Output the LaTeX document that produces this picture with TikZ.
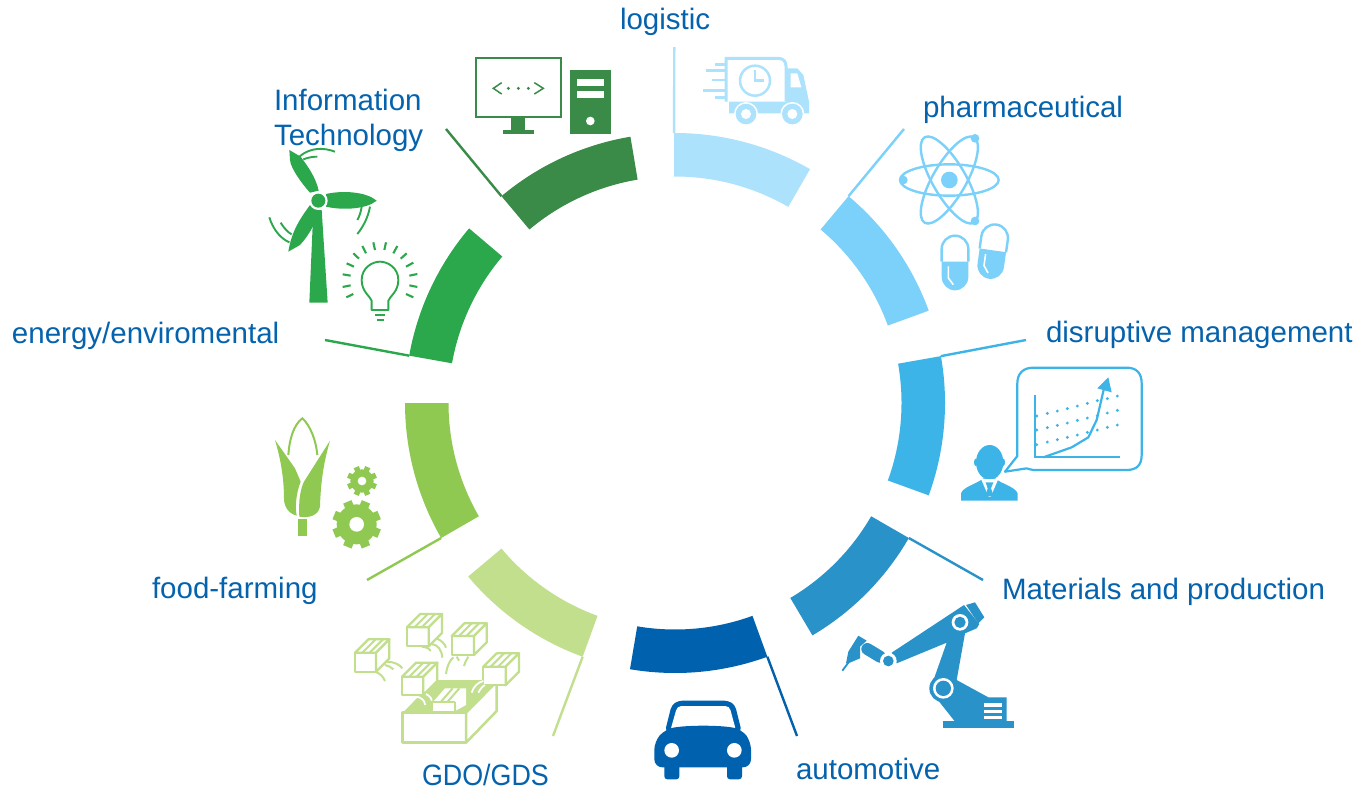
\documentclass[tikz,border=0pt]{standalone}
\usepackage{fontspec}
\setmainfont{Liberation Sans}
\usetikzlibrary{calc}
\definecolor{cLog}{HTML}{ADE2FD}
\definecolor{cPha}{HTML}{7BD1F9}
\definecolor{cDis}{HTML}{3DB4E8}
\definecolor{cMat}{HTML}{2993C9}
\definecolor{cAut}{HTML}{0062AE}
\definecolor{cGdo}{HTML}{C2DF8E}
\definecolor{cFoo}{HTML}{8FC952}
\definecolor{cEne}{HTML}{2CA84C}
\definecolor{cInf}{HTML}{3A8A48}
\definecolor{cTxt}{HTML}{0563AE}
\tikzset{
  zoomed/.style 2 args={x=0.33333pt,y=-0.33333pt,xshift=#1pt,yshift=-#2pt},
  lbl/.style={anchor=base west,inner sep=0pt,outer sep=0pt,text=cTxt,font=\fontsize{29.5}{35}\selectfont},
  leader/.style={line width=2.4pt},
}
\newcommand{\ringseg}[6]{%
  \fill[#4] ($(ctr)+(-#2:270)$) arc[start angle=-#2,end angle=-#3,radius=270]
     -- ($(ctr)+(-#3:226.5)$) arc[start angle=-#3,end angle=-#2,radius=226.5] -- cycle;
  \coordinate (#1-seg) at ($(ctr)+(-#5:270)$);
  \coordinate (#1-end) at #6;
  \draw[#4,leader] (#1-seg) -- (#1-end);
}
\newcommand{\cardbox}[5]{% x y w h depth: front top-left, width, height, depth
  \begin{scope}[shift={(#1,#2)}]
  \draw[cGdo,line width=2.3pt,line join=round,fill=white] (0,0) rectangle (#3,#4);
  \draw[cGdo,line width=2.3pt,line join=round,fill=white] (0,0) -- (#5,-#5) -- ({#3+#5},-#5) -- (#3,0) -- cycle;
  \draw[cGdo,line width=2.3pt,line join=round,fill=white] (#3,0) -- ({#3+#5},-#5) -- ({#3+#5},{#4-#5}) -- (#3,#4) -- cycle;
  \draw[cGdo,line width=2pt] (22,0) -- ({22+#5},-#5);
  \draw[cGdo,line width=2pt] (44,0) -- ({44+#5},-#5);
  \end{scope}
}
\newcommand{\capsule}{%
  \fill[cPha] (-40,-4) -- (-40,42) arc[start angle=180,end angle=0,radius=40] -- (40,-4) -- cycle;
  \draw[cPha,line width=2.4pt] (-40,-4) -- (-40,-42) arc[start angle=180,end angle=360,radius=40] -- (40,-4);
  \draw[white,line width=1.6pt] (-20,10) -- (-20,45) -- (-5,65);
}
\newcommand{\gearicon}[6]{% cx cy body tip hole tooth-width
  \begin{scope}[shift={(#1,#2)}]
  \fill[cFoo] (0,0) circle[radius=#3];
  \foreach \a in {0,45,...,315} {\draw[cFoo,line width=#6pt] (\a+22.5:#3-4) -- (\a+22.5:#4);}
  \fill[white] (0,0) circle[radius=#5];
  \end{scope}
}
\begin{document}
\begin{tikzpicture}[x=1pt,y=-1pt]
\useasboundingbox (0,0) rectangle (1370,788);
\fill[white] (0,0) rectangle (1370,788);
\coordinate (ctr) at (675,403);

% ring segments and leaders
\ringseg{log}{90.2}{60}{cLog}{90.2}{(674.3,47)}
\ringseg{pha}{50}{20}{cPha}{50}{(904,129)}
\ringseg{dis}{10}{-20}{cDis}{10}{(1026,340)}
\ringseg{mat}{-30}{-59.4}{cMat}{-30}{(983,580)}
\ringseg{aut}{-70}{-99.6}{cAut}{-70}{(797,736)}
\ringseg{gdo}{-110}{-140}{cGdo}{-110}{(553,736)}
\ringseg{foo}{-150}{-180}{cFoo}{-150}{(367,580)}
\ringseg{ene}{169.9}{139.7}{cEne}{169.9}{(325,340)}
\ringseg{inf}{130}{99.5}{cInf}{130}{(446,129)}

% labels
\node[lbl] (t-log) at (620,29) {logistic};
\node[lbl] (t-pha) at (923,117) {pharmaceutical};
\node[lbl] (t-dis) at (1046,342) {disruptive management};
\node[lbl] (t-mat) at (1002,599) {Materials and production};
\node[lbl] (t-aut) at (796,779) {automotive};
\node[lbl] (t-gdo) at (422,785) {\scalebox{0.91}[1]{GDO/GDS}};
\node[lbl] (t-foo) at (152,598) {food-farming};
\node[lbl] (t-ene) at (12,343) {energy/enviromental};
\node[lbl] (t-inf1) at (274,110.5) {Information};
\node[lbl] (t-inf2) at (274,145.5) {Technology};

% computer and wind / bulb
\begin{scope}[zoomed={260}{40}]
  \draw[cInf,line width=2.2pt] (648,54) rectangle (904,231);
  \fill[cInf] (753,232) rectangle (795,270);
  \fill[cInf] (729,270) rectangle (821,282);
  \draw[cInf,line width=1.5pt] (725,128) -- (700,145) -- (725,162);
  \draw[cInf,line width=1.5pt] (823,128) -- (850,145) -- (823,162);
  \foreach \p in {745,775,805} \fill[cInf] (\p,145) circle[radius=5];
  \fill[cInf] (930,90) rectangle (1053,282);
  \fill[white] (950,117) rectangle (1033,137);
  \fill[white] (950,154) rectangle (1033,174);
  \fill[white] (991,243) circle[radius=13];
  % turbine
  \fill[cEne] (160,510) -- (185,510) -- (203,788) -- (148,788) -- cycle;
  \fill[cEne] (198,462) .. controls (250,450) and (320,456) .. (350,482) .. controls (320,507) and (250,512) .. (198,500) -- cycle;
  \fill[cEne] (150,458) .. controls (125,430) and (92,385) .. (90,360) -- (88,330) -- (122,350) .. controls (148,385) and (168,415) .. (176,452) -- cycle;
  \fill[cEne] (150,495) .. controls (125,530) and (95,570) .. (85,635) -- (120,615) .. controls (148,585) and (168,545) .. (180,512) -- cycle;
  \fill[white] (175,482) circle[radius=28];
  \fill[cEne] (175,482) circle[radius=21];
  \draw[cEne,line width=1.9pt] (118,350) .. controls (150,322) and (190,322) .. (225,335);
  \draw[cEne,line width=1.9pt] (130,358) .. controls (145,352) and (160,350) .. (172,350);
  \draw[cEne,line width=1.9pt] (305,500) .. controls (303,515) and (298,530) .. (292,540);
  \draw[cEne,line width=1.9pt] (330,500) .. controls (325,530) and (310,560) .. (292,582);
  \draw[cEne,line width=1.9pt] (28,532) .. controls (38,565) and (60,595) .. (88,607);
  \draw[cEne,line width=1.9pt] (62,548) .. controls (72,565) and (85,578) .. (95,583);
  % bulb
  \draw[cEne,line width=1.9pt,line join=round] (335,810) -- (335,782) .. controls (330,768) and (305,755) .. (305,720)
     .. controls (305,685) and (335,665) .. (360,665) .. controls (385,665) and (415,685) .. (415,720)
     .. controls (415,755) and (390,768) .. (385,782) -- (385,810) -- cycle;
  \draw[cEne,line width=2.1pt] (345,825) -- (375,825);
  \draw[cEne,line width=2.1pt] (350,841) -- (372,841);
  \foreach \a/\b/\c/\d in {259/772/280/762,248/741/272/736,248/703/272/707,260/670/282/680,280/640/297/656,307/618/318/640,340/607/345/630,378/607/373/630,412/618/400/640,440/640/422/656,460/668/438/680,472/702/448/707,472/741/448/736,460/772/438/762}
    \draw[cEne,line width=2.1pt] (\a,\b) -- (\c,\d);
\end{scope}

% truck, atom, pills
\begin{scope}[zoomed={660}{40}]
  \draw[cLog,line width=3pt] (198,185) -- (198,55) -- (355,55) .. controls (370,55) and (378,65) .. (378,78) -- (378,185);
  \fill[cLog] (380,85) -- (412,85) -- (430,105) -- (447,185) -- (447,220) -- (207,220) -- (207,185) -- (380,185) -- cycle;
  \fill[white] (392,100) -- (412,100) -- (424,142) -- (392,142) -- cycle;
  \foreach \wx in {258,397} {
    \fill[white] (\wx,222) circle[radius=36];
    \fill[cLog] (\wx,222) circle[radius=31];
    \fill[white] (\wx,222) circle[radius=15];
  }
  \draw[cLog,line width=2.5pt] (285,122) circle[radius=45];
  \draw[cLog,line width=2.5pt] (285,90) -- (285,122) -- (312,122);
  \foreach \a/\b in {165/73,137/92,157/120,128/152,165/172}
    \draw[cLog,line width=2.8pt] (\a,\b) -- (195,\b);
  % atom
  \begin{scope}[shift={(868,420)}]
    \draw[cPha,line width=2.4pt] (0,0) ellipse[x radius=148,y radius=47];
    \draw[cPha,line width=2.4pt,rotate=60] (0,0) ellipse[x radius=148,y radius=50];
    \draw[cPha,line width=2.4pt,rotate=-60] (0,0) ellipse[x radius=148,y radius=50];
    \fill[cPha] (0,0) circle[radius=25];
  \end{scope}
  \fill[cPha] (730,420) circle[radius=13];
  \fill[cPha] (945,295) circle[radius=13];
  \fill[cPha] (945,543) circle[radius=13];
  % pills
  \begin{scope}[shift={(885,669)}] \capsule \end{scope}
  \begin{scope}[shift={(998,635)},rotate=-8] \capsule \end{scope}
\end{scope}

% manager
\begin{scope}[zoomed={880}{330}]
  \draw[cDis,line width=2.2pt,line join=round] (375,425) -- (412,378) -- (412,160) .. controls (412,130) and (430,113) .. (460,113)
     -- (740,113) .. controls (770,113) and (785,130) .. (785,160) -- (785,375) .. controls (785,405) and (770,420) .. (740,420)
     -- (460,420) .. controls (450,420) and (445,415) .. (440,415) -- cycle;
  \draw[cDis,line width=2.1pt] (465,195) -- (465,382) -- (720,382);
  \draw[cDis,line width=2.2pt,line join=round] (490,382) -- (575,352) -- (625,322) -- (650,270) -- (672,175);
  \fill[cDis] (685,142) -- (695,187) -- (652,175) -- cycle;
  \foreach \dx/\dy in {470/258,502/250,532/243,562/236,592/228,622/220,652/212,682/206,712/198,
                       470/300,502/293,532/286,562/279,592/271,622/264,652/257,682/249,712/241,
                       470/344,502/336,532/329,562/322,592/315,622/307,652/300,682/292,712/285}
    \fill[cDis] (\dx,\dy) circle[radius=4.8];
  \fill[cDis] (329,397) ellipse[x radius=41,y radius=52];
  \fill[cDis] (287,397) ellipse[x radius=5,y radius=11];
  \fill[cDis] (370,397) ellipse[x radius=5,y radius=11];
  \fill[cDis] (243,512) -- (243,490) .. controls (250,470) and (290,462) .. (310,445) -- (345,445) .. controls (365,462) and (405,470) .. (413,490) -- (413,512) -- cycle;
  \fill[white] (303,447) -- (355,447) -- (332,500) -- (326,500) -- cycle;
  \fill[cDis] (317,457) -- (340,457) -- (333,475) -- (341,498) -- (316,498) -- (323,475) -- cycle;
\end{scope}

% robot
\begin{scope}[zoomed={780}{500}]
  \fill[cMat] (490,662) rectangle (703,685);
  \fill[cMat] (450,570) -- (525,665) -- (680,665) -- (680,592) -- (625,592) -- (530,540) -- (555,400) -- (590,385) -- (598,372) -- (552,315) -- (335,458) -- (350,490) -- (500,428) -- cycle;
  \fill[cMat] (558,315) -- (585,307) -- (613,352) -- (595,370) -- cycle;
  \fill[cMat] (490,565) circle[radius=42];
  \fill[white] (490,565) circle[radius=31];
  \fill[cMat] (490,565) circle[radius=23];
  \fill[white] (540,367) circle[radius=25];
  \fill[cMat] (540,367) circle[radius=17];
  \fill[white] (612,610) rectangle (665,620);
  \fill[white] (612,630) rectangle (665,638);
  \fill[white] (612,648) rectangle (665,656);
  \draw[cMat,line width=12pt,line cap=round] (262,447) -- (300,470);
  \fill[white] (325,483) circle[radius=25];
  \fill[cMat] (325,483) circle[radius=16];
  \fill[cMat] (235,407) -- (260,422) -- (240,440) -- (240,475) -- (205,490) -- (198,490) -- (205,455) -- cycle;
  \draw[cMat,line width=1.8pt] (205,488) -- (187,512);
\end{scope}

% car
\begin{scope}[zoomed={620}{610}]
  \fill[cAut,rounded corners=4pt] (135,365) -- (155,285) -- (175,272) -- (325,272) -- (345,285) -- (365,365) -- cycle;
  \fill[white,rounded corners=2pt] (152,358) -- (170,295) -- (178,288) -- (322,288) -- (330,295) -- (347,358) -- cycle;
  \fill[cAut,rounded corners=8pt] (103,472) -- (103,395) -- (135,358) .. controls (200,345) and (300,345) .. (365,358) -- (393,395) -- (393,472) -- cycle;
  \fill[cAut,rounded corners=3pt] (133,460) rectangle (178,508);
  \fill[cAut,rounded corners=3pt] (321,460) rectangle (366,508);
  \fill[white] (155,421) circle[radius=22];
  \fill[white] (343,421) circle[radius=22];
\end{scope}

% boxes
\begin{scope}[zoomed={340}{550}]
  \fill[cGdo] (188,488) -- (285,390) -- (470,390) -- (378,488) -- cycle;
  \draw[cGdo,line width=2.5pt,line join=round] (378,488) -- (470,395) -- (470,483) -- (378,578) -- cycle;
  \draw[cGdo,line width=2.5pt,line join=round] (188,488) rectangle (378,578);
  \fill[white] (280,455) rectangle (345,483);
  \fill[white] (280,455) -- (315,415) -- (378,415) -- (345,455) -- cycle;
  \fill[white] (345,455) -- (378,415) -- (378,465) -- (345,483) -- cycle;
  \draw[cGdo,line width=2pt] (303,455) -- (338,415);
  \draw[cGdo,line width=2pt] (323,455) -- (358,415);
  \draw[cGdo,line width=2pt] (345,455) -- (345,483);
  \draw[cGdo,line width=2pt] (280,455) -- (345,455);
  \cardbox{45}{308}{63}{57}{40}
  \cardbox{201}{232}{65}{57}{40}
  \cardbox{335}{258}{67}{57}{38}
  \cardbox{186}{380}{64}{55}{42}
  \cardbox{430}{350}{67}{55}{40}
  \begin{scope}[cGdo,line width=2pt]
  \draw (138,335) .. controls (165,335) and (180,345) .. (187,355);
  \draw (135,345) .. controls (145,347) and (155,352) .. (160,358);
  \draw (105,365) .. controls (120,370) and (130,380) .. (135,393);
  \draw (245,290) .. controls (258,291) and (268,295) .. (272,303);
  \draw (275,282) .. controls (295,285) and (305,300) .. (307,323);
  \draw (290,265) .. controls (305,272) and (315,282) .. (318,293);
  \draw (318,372) .. controls (320,350) and (330,330) .. (340,322);
  \draw (350,320) -- (357,332);
  \draw (372,348) .. controls (374,338) and (380,328) .. (385,320);
  \end{scope}
  \begin{scope}[white,line width=1.8pt]
  \draw (230,440) .. controls (245,443) and (255,452) .. (255,465);
  \draw (258,432) .. controls (268,437) and (275,445) .. (275,452);
  \draw (395,428) .. controls (400,410) and (415,396) .. (430,393);
  \draw (415,428) .. controls (420,418) and (428,408) .. (435,405);
  \end{scope}
\end{scope}

% corn and gears
\begin{scope}[zoomed={260}{400}]
  \draw[cFoo,line width=2pt] (85,165) .. controls (88,120) and (100,75) .. (127,55) .. controls (150,75) and (168,120) .. (172,165);
  \fill[cFoo] (45,120) -- (105,205) -- (122,245) .. controls (108,280) and (105,320) .. (110,347) .. controls (85,340) and (72,320) .. (72,295) .. controls (72,230) and (60,170) .. (45,120) -- cycle;
  \fill[cFoo] (210,122) .. controls (190,190) and (182,250) .. (180,320) .. controls (175,345) and (150,355) .. (118,350) .. controls (115,300) and (122,265) .. (132,245) -- cycle;
  \fill[cFoo] (115,357) rectangle (142,407);
  \gearicon{306}{243}{35}{45}{13}{5.5}
  \gearicon{290}{373}{60}{73}{22}{9}
\end{scope}
\end{tikzpicture}
\end{document}
